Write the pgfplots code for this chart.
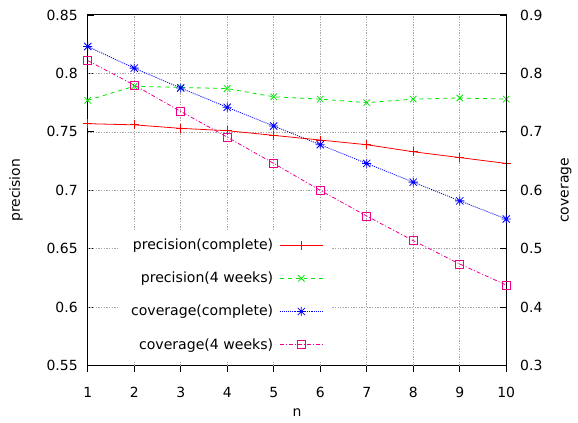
\documentclass[border=0pt]{standalone}
\usepackage{pgfplots}
\pgfplotsset{compat=1.18}
\usepackage{fontspec}
\setmainfont{DejaVu Sans}
\pgfdeclareplotmark{gpstar}{%
  \pgfpathmoveto{\pgfqpoint{-\pgfplotmarksize}{0pt}}\pgfpathlineto{\pgfqpoint{\pgfplotmarksize}{0pt}}%
  \pgfpathmoveto{\pgfqpoint{0pt}{-\pgfplotmarksize}}\pgfpathlineto{\pgfqpoint{0pt}{\pgfplotmarksize}}%
  \pgfpathmoveto{\pgfqpoint{-.8\pgfplotmarksize}{-.8\pgfplotmarksize}}\pgfpathlineto{\pgfqpoint{.8\pgfplotmarksize}{.8\pgfplotmarksize}}%
  \pgfpathmoveto{\pgfqpoint{-.8\pgfplotmarksize}{.8\pgfplotmarksize}}\pgfpathlineto{\pgfqpoint{.8\pgfplotmarksize}{-.8\pgfplotmarksize}}%
  \pgfusepathqstroke}
\definecolor{gpgreen}{RGB}{0,230,0}
\tikzset{
  s1/.style={red, solid, line width=0.6pt, mark=+, mark size=3.4pt, mark options={solid}},
  s2/.style={gpgreen, dash pattern=on 3pt off 3pt, line width=0.6pt, mark=x, mark size=3.4pt, mark options={solid}},
  s3/.style={blue, dash pattern=on 0.8pt off 0.8pt, line width=0.6pt, mark=gpstar, mark size=3.4pt, mark options={solid}},
  s4/.style={magenta, dash pattern=on 3pt off 1.5pt on 0.8pt off 1.5pt, line width=0.6pt, mark=square, mark size=3pt, mark options={solid}},
}
\pgfplotsset{
  common/.style={
    scale only axis, width=315pt, height=264pt,
    xmin=1, xmax=10,
    /pgf/number format/assume math mode=true,
    tick style={black, line width=0.6pt},
    major tick length=5pt,
    axis line style={line width=0.75pt},
  }
}
\begin{document}
\begin{tikzpicture}[font=\fontsize{10.5}{12.6}\selectfont]
\begin{axis}[common,
  ymin=0.55, ymax=0.85,
  ytick={0.55,0.6,0.65,0.7,0.75,0.8,0.85},
  yticklabels={0.55,0.6,0.65,0.7,0.75,0.8,0.85},
  xtick={1,...,10},
  xtick pos=bottom, ytick pos=left,
  xtick align=outside, ytick align=inside,
  extra x ticks={2,...,9}, extra x tick labels={},
  extra y ticks={0.6,0.65,0.7,0.75,0.8}, extra y tick labels={},
  extra tick style={grid=major, major tick length=0pt},
  grid style={gray!70, dash pattern=on 1pt off 1pt, line width=0.5pt},
  xticklabel style={yshift=-7.5pt},
  yticklabel style={xshift=-4pt},
  xlabel={n}, ylabel={precision},
  xlabel style={at={(axis description cs:0.5,-0.135)}, anchor=center},
  ylabel style={at={(axis description cs:-0.171,0.5)}, anchor=center},
]
\addplot[s1] coordinates {(1,0.757)(2,0.756)(3,0.753)(4,0.751)(5,0.747)(6,0.743)(7,0.739)(8,0.733)(9,0.728)(10,0.723)};
\addplot[s2] coordinates {(1,0.777)(2,0.789)(3,0.788)(4,0.787)(5,0.780)(6,0.778)(7,0.775)(8,0.778)(9,0.779)(10,0.778)};
\end{axis}
\begin{axis}[common,
  ymin=0.3, ymax=0.9,
  ytick={0.3,0.4,0.5,0.6,0.7,0.8,0.9},
  yticklabels={0.3,0.4,0.5,0.6,0.7,0.8,0.9},
  axis x line=none, axis y line*=right,
  ytick align=inside,
  yticklabel style={xshift=7pt},
  ylabel={coverage},
  ylabel style={at={(axis description cs:1.143,0.5)}, anchor=center, rotate=0},
  legend plot pos=right,
  legend cell align=right,
  legend image code/.code={\draw[mark repeat=2, mark phase=2, #1] plot coordinates {(0cm,0cm) (0.575cm,0cm) (1.15cm,0cm)};},
  legend style={at={(rel axis cs:0.583,0.389)}, anchor=north east, draw=none, fill=white,
    row sep=11.4pt, column sep=2.5pt, inner xsep=6pt, inner ysep=5pt, font=\fontsize{10.6}{12.7}\selectfont},
]
\addlegendimage{s1}
\addlegendentry{precision(complete)}
\addlegendimage{s2}
\addlegendentry{precision(4 weeks)}
\addplot[s3] coordinates {(1,0.846)(2,0.809)(3,0.775)(4,0.742)(5,0.710)(6,0.678)(7,0.646)(8,0.614)(9,0.582)(10,0.551)};
\addlegendentry{coverage(complete)}
\addplot[s4] coordinates {(1,0.822)(2,0.780)(3,0.735)(4,0.691)(5,0.646)(6,0.600)(7,0.556)(8,0.514)(9,0.474)(10,0.438)};
\addlegendentry{coverage(4 weeks)}
\end{axis}
\path ([xshift=-66pt,yshift=-42.75pt]current axis.south west) rectangle ([xshift=54pt,yshift=11.25pt]current axis.north east);
\end{tikzpicture}
\end{document}
